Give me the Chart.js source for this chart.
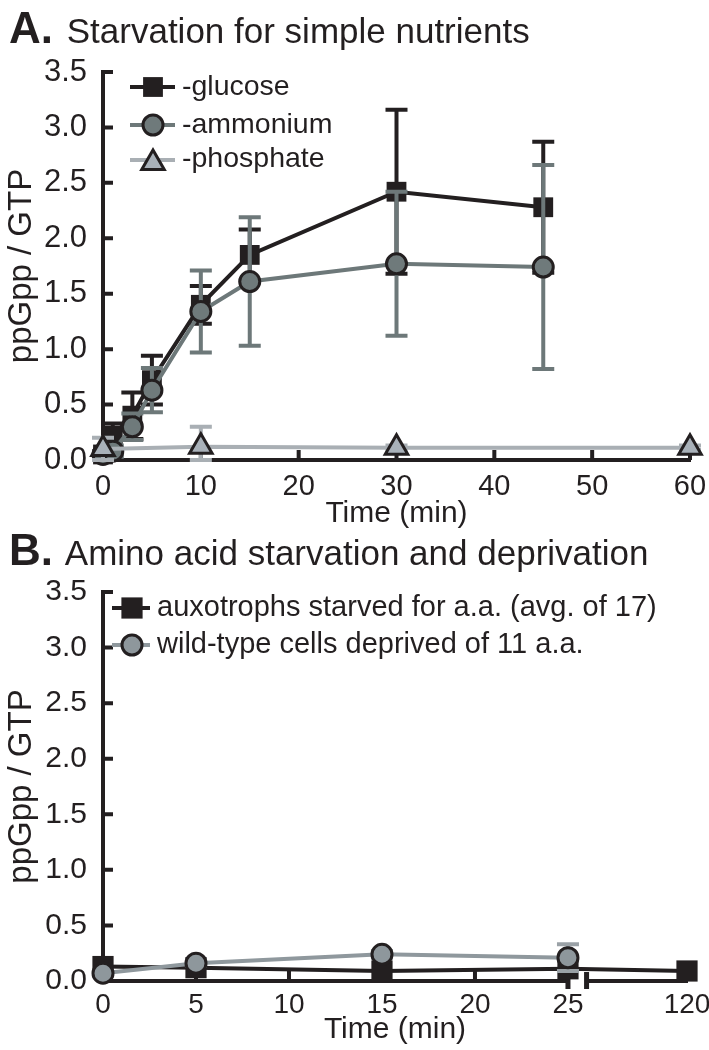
<!DOCTYPE html>
<html>
<head>
<meta charset="utf-8">
<script src="https://cdn.jsdelivr.net/npm/chart.js@4.4.1/dist/chart.umd.min.js"></script>
<style>
  body { margin: 0; background: #fff; width: 709px; height: 1050px; position: relative; overflow: hidden;
         font-family: "Liberation Sans", Arial, sans-serif; color: #231f20; }
  canvas { position: absolute; left: 0; }
  #chartA { top: 0; }
  #chartB { top: 560px; }
  .title { position: absolute; left: 9px; font-size: 35px; line-height: 44px; white-space: nowrap; z-index: 2; }
  .title b { font-size: 44px; margin-right: 4px; }
</style>
</head>
<body>
<canvas id="chartA" width="709" height="535"></canvas>
<canvas id="chartB" width="709" height="490"></canvas>
<div class="title" style="top:6px"><b>A.</b> Starvation for simple nutrients</div>
<div class="title" style="top:528px"><b>B.</b> Amino acid starvation and deprivation</div>
<script>
const INK = "#231f20";

// ---- panel A data ----
const timeA = [0, 1, 3, 5, 10, 15, 30, 45];
const glucose = [0.05, 0.22, 0.4, 0.72, 1.4, 1.85, 2.42, 2.28];
const glucoseErr = [0.03, 0.11, 0.21, 0.22, 0.17, 0.23, 0.74, 0.59];
const ammonium = [0.05, 0.08, 0.3, 0.63, 1.34, 1.61, 1.77, 1.74];
const ammoniumErr = [0.03, 0.05, 0.12, 0.2, 0.37, 0.58, 0.65, 0.92];
const timePhos = [0, 10, 30, 60];
const phosphate = [0.1, 0.12, 0.11, 0.11];
const phosphateErr = [0.1, 0.18, 0.02, 0.02];

// ---- panel B data ----
const timeB = [0, 5, 15, 25, 120];
const auxotrophs = [0.13, 0.12, 0.09, 0.11, 0.09];
const timeWild = [0, 5, 15, 25];
const wildType = [0.07, 0.16, 0.24, 0.21];
const wildTypeErr = [0.02, 0.02, 0.03, 0.12];

// broken time axis in B: 120 min sits just past the break
const tickLabelsB = ["0", "5", "10", "15", "20", "25", "120"];
const tickTimesB = [0, 5, 10, 15, 20, 25, 120];
const POS_120 = 31.4;
const breakAt = [25, 26];
const posB = t => (t <= 25 ? t : POS_120);

Chart.defaults.font.family = '"Liberation Sans", Arial, sans-serif';
Chart.defaults.color = INK;

const pts = (xs, ys) => xs.map((x, i) => ({ x: x, y: ys[i] }));

const errorBars = {
  id: "errorBars",
  beforeDatasetDraw(chart, args) {
    const ds = chart.data.datasets[args.index];
    if (!ds.errors) return;
    const ctx = chart.ctx, y = chart.scales.y;
    ctx.save();
    ctx.strokeStyle = ds.errorColor;
    ctx.lineWidth = 4;
    args.meta.data.forEach((pt, i) => {
      const v = ds.data[i].y, e = ds.errors[i];
      const top = y.getPixelForValue(v + e);
      const bot = y.getPixelForValue(Math.max(v - e, 0));
      ctx.beginPath();
      ctx.moveTo(pt.x, top); ctx.lineTo(pt.x, bot);
      ctx.moveTo(pt.x - 11, top); ctx.lineTo(pt.x + 11, top);
      ctx.moveTo(pt.x - 11, bot); ctx.lineTo(pt.x + 11, bot);
      ctx.stroke();
    });
    ctx.restore();
  }
};

// tick marks point inward, into the plot
const innerTicks = {
  id: "innerTicks",
  beforeDatasetsDraw(chart) {
    const { ctx, chartArea: a, scales: { x, y } } = chart;
    ctx.save();
    ctx.strokeStyle = INK;
    ctx.lineWidth = 4;
    ctx.beginPath();
    y.ticks.forEach(t => {
      if (t.value === 0) return;
      const py = y.getPixelForValue(t.value);
      ctx.moveTo(a.left, py); ctx.lineTo(a.left + 10, py);
    });
    x.ticks.forEach(t => {
      if (t.value === 0) return;
      const px = x.getPixelForValue(t.value);
      ctx.moveTo(px, a.bottom); ctx.lineTo(px, a.bottom - 10);
    });
    ctx.stroke();
    const brk = chart.options.plugins.axisBreak;
    if (brk) {
      const x1 = x.getPixelForValue(brk.at[0]), x2 = x.getPixelForValue(brk.at[1]);
      ctx.fillStyle = "#fff";
      ctx.fillRect(x1, a.bottom - 3, x2 - x1, 6);
      ctx.fillStyle = INK;
      ctx.fillRect(x1 - 2.5, a.bottom - 2, 5, 10);
      ctx.fillRect(x2 - 2.5, a.bottom - 9, 5, 17);
    }
    ctx.restore();
  }
};

const boxLegend = {
  id: "boxLegend",
  afterDraw(chart) {
    const cfg = chart.options.plugins.boxLegend;
    if (!cfg) return;
    const ctx = chart.ctx;
    ctx.save();
    cfg.rows.forEach((r, i) => {
      const ds = chart.data.datasets[i];
      ctx.strokeStyle = ds.borderColor;
      ctx.lineWidth = 4;
      ctx.beginPath();
      ctx.moveTo(cfg.x0, r.my); ctx.lineTo(cfg.x1, r.my);
      ctx.stroke();
      ctx.fillStyle = ds.pointBackgroundColor;
      ctx.strokeStyle = ds.pointBorderColor;
      ctx.lineWidth = ds.pointBorderWidth;
      Chart.helpers.drawPoint(ctx, {
        pointStyle: ds.pointStyle, radius: ds.pointRadius, rotation: 0,
        borderWidth: ds.pointBorderWidth
      }, cfg.mx, r.my + (ds.pointStyle === "triangle" ? 3 : 0));
      ctx.fillStyle = INK;
      ctx.font = cfg.font;
      ctx.textBaseline = "alphabetic";
      ctx.fillText(ds.label, cfg.tx, r.base);
    });
    ctx.restore();
  }
};

function yAxis(fontSize) {
  return {
    min: 0, max: 3.5,
    border: { display: true, width: 4, color: INK },
    grid: { display: false, drawTicks: false },
    ticks: { stepSize: 0.5, padding: 16, font: { size: fontSize }, callback: v => v.toFixed(1) },
    title: { display: true, text: "ppGpp / GTP", font: { size: 33, lineHeight: 1.2 }, padding: { top: 2, bottom: 0 } },
    afterFit(s) { s.width = 103; s.paddingTop = 0; s.paddingBottom = 0; }
  };
}

new Chart(document.getElementById("chartA"), {
  type: "line",
  data: {
    datasets: [
      {
        label: "-glucose", data: pts(timeA, glucose), errors: glucoseErr, errorColor: INK,
        borderColor: INK, borderWidth: 4, pointStyle: "rect", pointRadius: 14,
        pointBackgroundColor: INK, pointBorderColor: INK, pointBorderWidth: 0, order: 3
      },
      {
        label: "-ammonium", data: pts(timeA, ammonium), errors: ammoniumErr, errorColor: "#6d7879",
        borderColor: "#6d7879", borderWidth: 4, pointStyle: "circle", pointRadius: 10,
        pointBackgroundColor: "#6f7a7b", pointBorderColor: INK, pointBorderWidth: 3, order: 2
      },
      {
        label: "-phosphate", data: pts(timePhos, phosphate), errors: phosphateErr, errorColor: "#a9afb4",
        borderColor: "#a9afb4", borderWidth: 4, pointStyle: "triangle", pointRadius: 13,
        pointBackgroundColor: "#a9b1b9", pointBorderColor: INK, pointBorderWidth: 3, order: 1
      }
    ]
  },
  options: {
    responsive: false,
    animation: false,
    clip: false,
    layout: { padding: { left: 0, top: 72, right: 19, bottom: 0 } },
    elements: { line: { tension: 0 } },
    plugins: {
      legend: { display: false },
      tooltip: { enabled: false },
      boxLegend: {
        x0: 130, x1: 175, mx: 153, tx: 182, font: '28.5px "Liberation Sans", Arial, sans-serif',
        rows: [{ my: 87, base: 95 }, { my: 125, base: 133 }, { my: 160, base: 167 }]
      }
    },
    scales: {
      x: {
        type: "linear", min: 0, max: 60,
        border: { display: true, width: 4, color: INK },
        grid: { display: false, drawTicks: false },
        ticks: { stepSize: 10, padding: 10, maxRotation: 0, autoSkip: false, font: { size: 29 } },
        title: { display: true, text: "Time (min)", font: { size: 30, lineHeight: 1.2 }, padding: { top: 0, bottom: 3 } },
        afterFit(s) { s.height = 75; s.paddingLeft = 0; s.paddingRight = 0; }
      },
      y: yAxis(31)
    }
  },
  plugins: [errorBars, innerTicks, boxLegend]
});

new Chart(document.getElementById("chartB"), {
  type: "line",
  data: {
    datasets: [
      {
        label: "auxotrophs starved for a.a. (avg. of 17)",
        data: timeB.map((t, i) => ({ x: posB(t), y: auxotrophs[i] })),
        borderColor: INK, borderWidth: 4, pointStyle: "rect", pointRadius: 15,
        pointBackgroundColor: INK, pointBorderColor: INK, pointBorderWidth: 0, order: 2
      },
      {
        label: "wild-type cells deprived of 11 a.a.",
        data: timeWild.map((t, i) => ({ x: posB(t), y: wildType[i] })),
        errors: wildTypeErr, errorColor: "#9aa1a6",
        borderColor: "#8f989d", borderWidth: 4, pointStyle: "circle", pointRadius: 10,
        pointBackgroundColor: "#8e979c", pointBorderColor: INK, pointBorderWidth: 3, order: 1
      }
    ]
  },
  options: {
    responsive: false,
    animation: false,
    clip: false,
    layout: { padding: { left: 0, top: 32, right: 22, bottom: 0 } },
    elements: { line: { tension: 0 } },
    plugins: {
      legend: { display: false },
      tooltip: { enabled: false },
      axisBreak: { at: breakAt },
      boxLegend: {
        x0: 112, x1: 150, mx: 132, tx: 157, font: '29px "Liberation Sans", Arial, sans-serif',
        rows: [{ my: 48, base: 56 }, { my: 85, base: 93 }]
      }
    },
    scales: {
      x: {
        type: "linear", min: 0, max: POS_120,
        border: { display: true, width: 4, color: INK },
        grid: { display: false, drawTicks: false },
        afterBuildTicks(s) { s.ticks = tickTimesB.map(t => ({ value: posB(t) })); },
        ticks: {
          padding: 7, maxRotation: 0, autoSkip: false, font: { size: 28 },
          callback: (v, i) => tickLabelsB[i]
        },
        title: { display: true, text: "Time (min)", font: { size: 30, lineHeight: 1.2 }, padding: { top: 0, bottom: 2 } },
        afterFit(s) { s.height = 69; s.paddingLeft = 0; s.paddingRight = 0; }
      },
      y: yAxis(30)
    }
  },
  plugins: [errorBars, innerTicks, boxLegend]
});
</script>
</body>
</html>
